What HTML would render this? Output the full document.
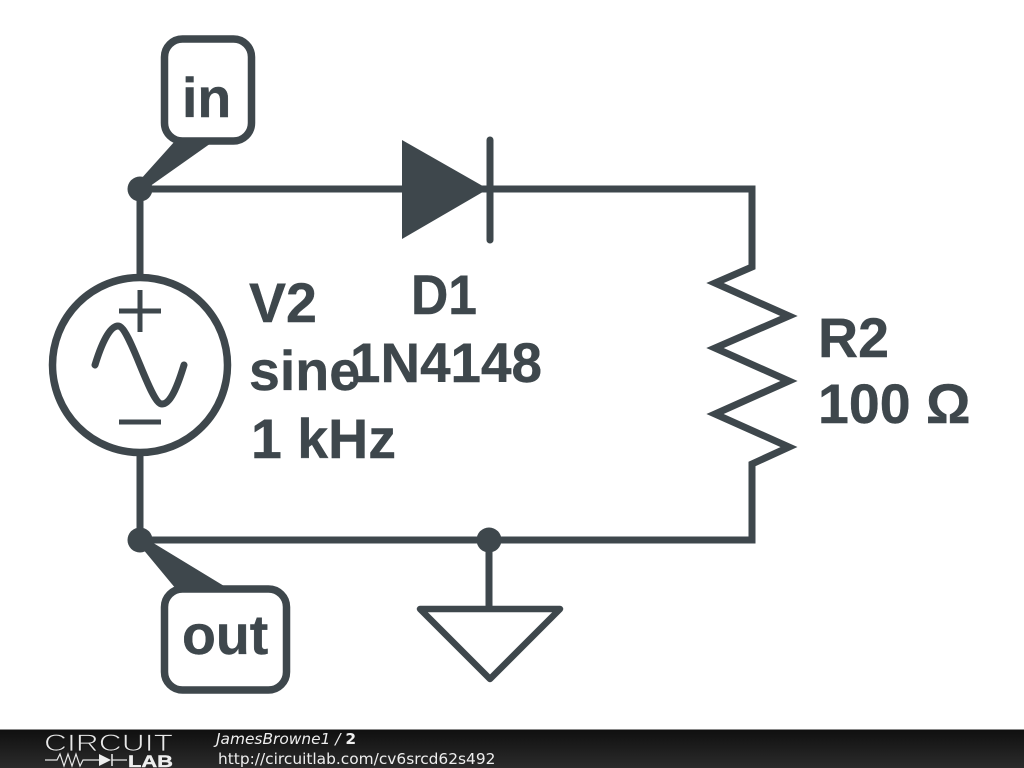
<!DOCTYPE html>
<html>
<head>
<meta charset="utf-8">
<title>Circuit diagram</title>
<style>
html,body{margin:0;padding:0;background:#fff;width:1024px;height:768px;overflow:hidden}
svg{display:block}
.t{font-family:"Liberation Sans",sans-serif;font-weight:700;font-size:55.5px;fill:#3e474c;stroke:#3e474c;stroke-width:0.4}
.f{font-family:"DejaVu Sans",sans-serif;font-size:15.4px;fill:#eee}
</style>
</head>
<body>
<svg width="1024" height="768" viewBox="0 0 1024 768" xmlns="http://www.w3.org/2000/svg">
<defs>
<linearGradient id="g" x1="0" y1="0" x2="0" y2="1">
<stop offset="0" stop-color="#0f0f0f"/>
<stop offset="1" stop-color="#2b2b2b"/>
</linearGradient>
</defs>
<rect width="1024" height="768" fill="#fff"/>
<g fill="none" stroke="#3e474c" stroke-width="7">
<path d="M140 189H752V267L715 283L789 316L715 348L789 381L715 414L789 447L752 464V540H140"/>
<path d="M140 189V277M140 453V540M489 540V609"/>
<circle cx="140" cy="365" r="87.500" stroke-width="7.500"/>
<path d="M119 311H161M140 290V332M119 422H161" stroke-width="5"/>
<path d="M95 365C102 342 110 326 118 326C130 326 150 404 162 404C170 404 177 388 184 365" stroke-linecap="round" stroke-width="7"/>
<path d="M490 140V240" stroke-linecap="round"/>
<path d="M420 609H560L490 679Z" stroke-linejoin="round" stroke-width="6.500"/>
<rect x="164.500" y="39" width="87" height="102" rx="18" stroke-width="7.500"/>
<rect x="164.500" y="589" width="122" height="101" rx="18" stroke-width="7.500"/>
</g>
<g fill="#3e474c">
<path d="M402 140V239L488 189Z"/>
<circle cx="140" cy="189" r="12.500"/>
<circle cx="140" cy="540" r="12.500"/>
<circle cx="489" cy="540" r="12.500"/>
<polygon points="175,141 214,141 146,189 140,180"/>
<polygon points="176,589 229,589 150,541 142,548"/>
</g>
<text class="t" x="182" y="117">in</text>
<text class="t" x="182" y="654">out</text>
<text class="t" x="249" y="322">V2</text>
<text class="t" x="249" y="390">sine</text>
<text class="t" x="251" y="458">1 kHz</text>
<text class="t" x="411" y="314" textLength="66" lengthAdjust="spacingAndGlyphs">D1</text>
<text class="t" x="350" y="382" textLength="192" lengthAdjust="spacingAndGlyphs">1N4148</text>
<text class="t" x="818" y="357">R2</text>
<text class="t" x="818" y="423">100 Ω</text>
<rect x="0" y="729" width="1024" height="39" fill="url(#g)"/>
<rect x="0" y="729" width="1024" height="1" fill="#8a8a8a"/>
<text x="44" y="751" font-family="Liberation Sans, sans-serif" font-size="24" textLength="129" lengthAdjust="spacingAndGlyphs" fill="#e8e8e8" stroke="#161616" stroke-width="0.8" paint-order="fill">CIRCUIT</text>
<path d="M45 760H57L60 754L64 766L68 754L72 766L76 754L80 766L83 760H99M112 760H127" fill="none" stroke="#e8e8e8" stroke-width="1.200"/>
<path d="M99 754V766L111 760Z" fill="#eee"/>
<path d="M112 754V766" stroke="#eee" stroke-width="1.500"/>
<text x="128" y="767" font-family="Liberation Sans, sans-serif" font-weight="700" font-size="17" textLength="45" lengthAdjust="spacingAndGlyphs" fill="#eee" stroke="#eee" stroke-width="0.4">LAB</text>
<text class="f" x="216" y="744"><tspan font-style="oblique">JamesBrowne1 / </tspan><tspan font-weight="700">2</tspan></text>
<text class="f" x="218" y="764">http://circuitlab.com/cv6srcd62s492</text>
</svg>
</body>
</html>
